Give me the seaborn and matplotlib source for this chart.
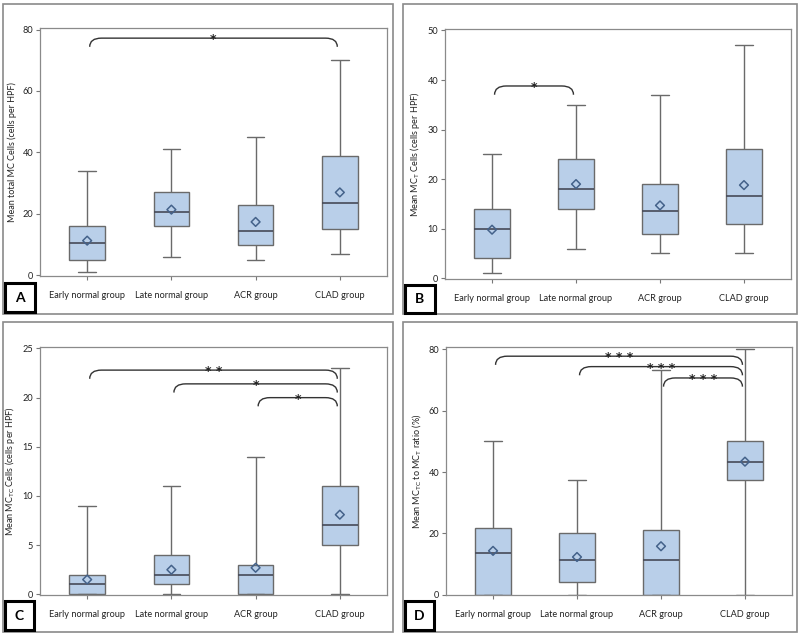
import numpy as np
import pandas as pd
import matplotlib
matplotlib.use("Agg")
import matplotlib.pyplot as plt
import seaborn as sns
from matplotlib.patches import Rectangle, PathPatch
from matplotlib.path import Path

# Groups on the x axis
groups = ["Early normal group", "Late normal group", "ACR group", "CLAD group"]

# Five-number summaries per group: min, q1, median, q3, max
a_summary = [[1, 5, 10.5, 16, 34], [6, 16, 20.5, 27, 41], [5, 10, 14.5, 23, 45], [7, 15, 23.5, 39, 70]]
a_means = [11.3, 21.4, 17.4, 27.0]
b_summary = [[1, 4, 10, 14, 25], [6, 14, 18, 24, 35], [5, 9, 13.5, 19, 37], [5, 11, 16.5, 26, 47]]
b_means = [9.8, 19.0, 14.7, 18.8]
c_summary = [[0, 0, 1, 2, 9], [0, 1, 2, 4, 11], [0, 0, 2, 3, 14], [0, 5, 7, 11, 23]]
c_means = [1.5, 2.5, 2.7, 8.1]
d_summary = [[0, 0, 13.7, 21.7, 50], [0, 4.2, 11.2, 20, 37.4], [0, 0, 11.2, 21.2, 73.4], [0, 37.5, 43.3, 50, 80]]
d_means = [14.3, 12.3, 15.8, 43.4]

# Significance brackets: (group i, group j, height, stars)
a_brackets = [(0, 3, 77.2, "*")]
b_brackets = [(0, 1, 38.8, "*")]
c_brackets = [(0, 3, 22.8, "**"), (1, 3, 21.4, "*"), (2, 3, 20.0, "*")]
d_brackets = [(0, 3, 77.8, "***"), (1, 3, 74.4, "***"), (2, 3, 70.7, "***")]

panels = [
    ("A", a_summary, a_means, a_brackets, "Mean total MC Cells (cells per HPF)", (-0.2, 80.5), [0, 20, 40, 60, 80]),
    ("B", b_summary, b_means, b_brackets, r"Mean MC$_\mathregular{T}$ Cells (cells per HPF)", (-0.15, 50.3), [0, 10, 20, 30, 40, 50]),
    ("C", c_summary, c_means, c_brackets, r"Mean MC$_\mathregular{TC}$ Cells (cells per HPF)", (-0.07, 25.15), [0, 5, 10, 15, 20, 25]),
    ("D", d_summary, d_means, d_brackets, r"Mean MC$_\mathregular{TC}$ to MC$_\mathregular{T}$ ratio (%)", (-0.1, 80.8), [0, 20, 40, 60, 80]),
]

# axes rectangles in pixels: left, right, top, bottom
ax_px = [(40, 387, 28, 276), (445, 791, 29, 279), (40, 387, 347, 595), (446, 792, 347, 595)]
frame_px = [(3, 393, 4, 314), (403, 797, 4, 314), (3, 393, 322, 632), (403, 797, 322, 632)]
letter_px = [(5, 35, 283, 312), (405, 435, 285, 313), (5, 34, 601, 630), (405, 434, 601, 630)]

W, H = 800, 635
sns.set_theme(style="white")
plt.rcParams["font.family"] = ["Lato", "DejaVu Sans"]

fig = plt.figure(figsize=(8, 6.35), dpi=100)

box_color = "#b9cfe9"
edge_color = "#6a6a6a"
med_color = "#464a58"
mean_color = "#44628a"


def bracket(ax, x1, x2, y, drop, dx, text):
    verts = [(x1, y - drop), (x1, y), (x1 + dx, y), (x2 - dx, y), (x2, y), (x2, y - drop)]
    codes = [Path.MOVETO, Path.CURVE3, Path.CURVE3, Path.LINETO, Path.CURVE3, Path.CURVE3]
    ax.add_patch(PathPatch(Path(verts, codes), fill=False, ec="#333333", lw=1.0))
    ax.annotate(" ".join(text) if len(text) > 1 else text, xy=((x1 + x2) / 2, y),
                xytext=(0, -3.6), textcoords="offset points",
                ha="center", va="baseline", fontsize=9, fontweight="bold",
                family="DejaVu Sans", color="#222222")


for i, (letter, summ, means, brackets, ylabel, ylim, yticks) in enumerate(panels):
    l, r, t, b = ax_px[i]
    ax = fig.add_axes([l / W, 1 - b / H, (r - l) / W, (b - t) / H])

    df = pd.DataFrame([(g, v) for g, vals in zip(groups, summ) for v in vals], columns=["group", "value"])
    sns.boxplot(data=df, x="group", y="value", order=groups, whis=(0, 100), width=0.42,
                color=box_color, saturation=1, linecolor=edge_color, linewidth=1.0,
                medianprops={"color": med_color, "linewidth": 1.2}, ax=ax)
    ax.scatter(np.arange(len(groups)), means, marker="D", s=20, facecolors="none",
               edgecolors=mean_color, linewidths=1.1, zorder=5)

    span = ylim[1] - ylim[0]
    for g1, g2, y, txt in brackets:
        bracket(ax, g1 + 0.03, g2 - 0.03, y, span * 0.035, 0.14, txt)

    ax.set_xlim(-0.56, 3.56)
    ax.set_ylim(*ylim)
    ax.set_yticks(yticks)
    ax.set_xlabel("")
    ax.set_ylabel(ylabel, fontsize=6.5, color="#222222")
    for s in ax.spines.values():
        s.set_visible(True)
        s.set_color("#8a8a8a")
        s.set_linewidth(0.9)
    ax.tick_params(axis="both", which="both", length=3, width=0.8, color="#777777",
                   labelsize=6.6, labelcolor="#222222", left=True, bottom=True, pad=8)
    ax.tick_params(axis="y", pad=2)

    fl, fr, ft, fb = frame_px[i]
    fig.add_artist(Rectangle((fl / W, 1 - fb / H), (fr - fl) / W, (fb - ft) / H,
                             transform=fig.transFigure, fill=False, ec="#8a8a8a", lw=1.2))
    ll, lr, lt, lb = letter_px[i]
    fig.add_artist(Rectangle((ll / W, 1 - lb / H), (lr - ll) / W, (lb - lt) / H,
                             transform=fig.transFigure, fill=True, fc="white", ec="black", lw=2.2))
    fig.text((ll + lr) / 2 / W, 1 - (lt + lb) / 2 / H, letter, ha="center", va="center",
             fontsize=10, fontweight="bold", color="black")

fig.savefig("out.png", dpi=100)
